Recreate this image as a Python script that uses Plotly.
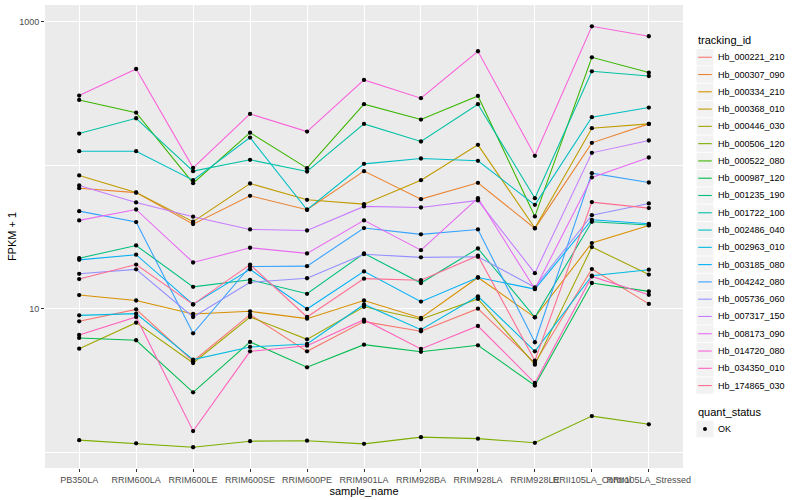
import plotly.graph_objects as go

# ---- data ----
samples = ["PB350LA", "RRIM600LA", "RRIM600LE", "RRIM600SE", "RRIM600PE",
           "RRIM901LA", "RRIM928BA", "RRIM928LA", "RRIM928LE",
           "RRII105LA_Control", "RRII105LA_Stressed"]

hb_000221_210 = [8.16, 9.89, 4.30, 9.08, 5.04, 8.12, 6.95, 10.0, 4.18, 18.9, 10.8]
hb_000307_090 = [69.3, 64.5, 38.9, 61.3, 49.0, 91.1, 58.1, 75.5, 36.3, 143.5, 194.6]
hb_000334_210 = [12.45, 11.4, 9.18, 9.58, 8.52, 11.4, 8.61, 16.5, 8.70, 28.7, 38.1]
hb_000368_010 = [85.0, 64.7, 40.4, 74.7, 57.5, 53.6, 78.8, 139.0, 36.5, 181.6, 194.6]
hb_000446_030 = [5.26, 7.99, 4.18, 8.75, 6.11, 10.3, 8.43, 11.7, 4.07, 26.9, 17.3]
hb_000506_120 = [1.21, 1.15, 1.08, 1.19, 1.20, 1.14, 1.27, 1.24, 1.16, 1.78, 1.56]
hb_000522_080 = [286, 233, 75.1, 169, 95.6, 267, 208.6, 305, 44.0, 567, 444]
hb_000987_120 = [6.25, 6.02, 2.61, 5.86, 3.90, 5.61, 5.00, 5.55, 2.91, 15.1, 13.2]
hb_001235_190 = [22.5, 27.6, 14.2, 15.9, 12.7, 24.3, 15.1, 26.3, 8.70, 40.4, 38.3]
hb_001722_100 = [166.6, 213, 91.1, 109.2, 90.6, 194.6, 146.6, 267, 59.0, 453, 420]
hb_002486_040 = [125.5, 125.5, 78.8, 156.3, 49.0, 102.4, 111.6, 107.5, 53.0, 216.6, 252.9]
hb_002963_010 = [8.98, 9.23, 4.41, 5.41, 5.67, 10.7, 7.14, 12.2, 5.04, 17.0, 18.7]
hb_003185_080 = [21.9, 23.8, 10.7, 18.8, 9.95, 18.2, 11.2, 16.5, 13.7, 41.7, 39.1]
hb_004242_080 = [47.9, 40.2, 6.73, 19.7, 19.8, 36.5, 33.0, 35.7, 5.83, 88.2, 75.9]
hb_005736_060 = [17.5, 18.8, 8.75, 15.3, 16.3, 24.0, 22.8, 23.0, 14.1, 44.9, 54.2]
hb_007317_150 = [72.4, 55.1, 43.8, 35.7, 35.1, 51.7, 50.8, 56.9, 17.7, 122.2, 149.0]
hb_008173_090 = [41.3, 49.2, 21.0, 26.6, 24.3, 41.3, 25.6, 59.0, 13.7, 82.3, 113.4]
hb_014720_080 = [306.6, 470, 96.1, 228.5, 172, 394, 294, 625, 116.5, 933, 795]
hb_034350_010 = [6.55, 8.75, 1.40, 5.04, 5.52, 8.38, 5.23, 7.57, 3.03, 16.8, 12.5]
hb_174865_030 = [16.1, 20.3, 10.7, 20.3, 8.75, 16.2, 15.8, 23.4, 4.34, 55.4, 50.3]

tracking_ids = ["Hb_000221_210", "Hb_000307_090", "Hb_000334_210", "Hb_000368_010",
                "Hb_000446_030", "Hb_000506_120", "Hb_000522_080", "Hb_000987_120",
                "Hb_001235_190", "Hb_001722_100", "Hb_002486_040", "Hb_002963_010",
                "Hb_003185_080", "Hb_004242_080", "Hb_005736_060", "Hb_007317_150",
                "Hb_008173_090", "Hb_014720_080", "Hb_034350_010", "Hb_174865_030"]
series_values = [hb_000221_210, hb_000307_090, hb_000334_210, hb_000368_010,
                 hb_000446_030, hb_000506_120, hb_000522_080, hb_000987_120,
                 hb_001235_190, hb_001722_100, hb_002486_040, hb_002963_010,
                 hb_003185_080, hb_004242_080, hb_005736_060, hb_007317_150,
                 hb_008173_090, hb_014720_080, hb_034350_010, hb_174865_030]
quant_status = "OK"

# ---- style ----
palette = ["#F8766D", "#EA8331", "#D89000", "#C09B00", "#A3A500", "#7CAE00",
           "#39B600", "#00BB4E", "#00BF7D", "#00C1A3", "#00BFC4", "#00BAE0",
           "#00B0F6", "#35A2FF", "#9590FF", "#C77CFF", "#E76BF3", "#FA62DB",
           "#FF62BC", "#FF6C91"]
FONT = "Liberation Sans, Arial, Helvetica, sans-serif"
W, H = 800, 500
ML, MR, MT, MB = 45, 116.5, 5, 31.5
PW, PH = W - ML - MR, H - MT - MB


def px(x):
    return (x - ML) / PW


def py(y):
    return (H - MB - y) / PH


fig = go.Figure()
for tid, vals, col in zip(tracking_ids, series_values, palette):
    fig.add_trace(go.Scatter(x=samples, y=vals, mode="lines", name=tid,
                             line=dict(color=col, width=1.07),
                             showlegend=False, hoverinfo="skip"))

all_x, all_y = [], []
for vals in series_values:
    all_x.extend(samples)
    all_y.extend(vals)
fig.add_trace(go.Scatter(x=all_x, y=all_y, mode="markers", name=quant_status,
                         marker=dict(color="black", size=4.3),
                         showlegend=False))

# ---- custom ggplot-like legend ----
shapes, annotations = [], []
annotations.append(dict(text="tracking_id", x=px(697), y=py(40), xref="paper", yref="paper",
                        xanchor="left", yanchor="middle", showarrow=False,
                        font=dict(family=FONT, size=11, color="black")))
step = 17.3
for i, (tid, col) in enumerate(zip(tracking_ids, palette)):
    cy = 57.3 + i * step
    shapes.append(dict(type="rect", xref="paper", yref="paper",
                       x0=px(697), x1=px(714), y0=py(cy - 8.2), y1=py(cy + 8.2),
                       fillcolor="#F2F2F2", line=dict(width=0)))
    shapes.append(dict(type="line", xref="paper", yref="paper",
                       x0=px(698.7), x1=px(712.3), y0=py(cy), y1=py(cy),
                       line=dict(color=col, width=1.1)))
    annotations.append(dict(text=tid, x=px(717), y=py(cy), xref="paper", yref="paper",
                            xanchor="left", yanchor="middle", showarrow=False,
                            font=dict(family=FONT, size=9, color="black")))

annotations.append(dict(text="quant_status", x=px(697), y=py(412), xref="paper", yref="paper",
                        xanchor="left", yanchor="middle", showarrow=False,
                        font=dict(family=FONT, size=11, color="black")))
cy = 429.5
shapes.append(dict(type="rect", xref="paper", yref="paper",
                   x0=px(697), x1=px(714), y0=py(cy - 8.2), y1=py(cy + 8.2),
                   fillcolor="#F2F2F2", line=dict(width=0)))
shapes.append(dict(type="circle", xref="paper", yref="paper",
                   x0=px(703.5), x1=px(707.5), y0=py(cy - 2.0), y1=py(cy + 2.0),
                   fillcolor="black", line=dict(width=0)))
annotations.append(dict(text=quant_status, x=px(717), y=py(cy), xref="paper", yref="paper",
                        xanchor="left", yanchor="middle", showarrow=False,
                        font=dict(family=FONT, size=9, color="black")))

fig.update_layout(
    width=W, height=H,
    margin=dict(l=ML, r=MR, t=MT, b=MB, pad=0),
    paper_bgcolor="white", plot_bgcolor="#EBEBEB",
    font=dict(family=FONT, size=9, color="#4D4D4D"),
    showlegend=False,
    shapes=shapes, annotations=annotations,
)
fig.update_xaxes(
    type="category", categoryorder="array", categoryarray=samples,
    range=[-0.6, len(samples) - 0.4], tickangle=0,
    showgrid=True, gridcolor="white", gridwidth=1.07,
    zeroline=False, showline=False,
    ticks="outside", ticklen=3, tickwidth=1, tickcolor="#333333",
    tickfont=dict(family=FONT, size=9, color="#4D4D4D"),
    title=dict(text="sample_name", font=dict(family=FONT, size=11, color="black"), standoff=0),
)
fig.update_yaxes(
    type="log", range=[-0.1115, 3.1185],
    tickmode="array", tickvals=[10, 1000], ticktext=["10", "1000"],
    showgrid=True, gridcolor="white", gridwidth=1.07,
    minor=dict(tickmode="array", tickvals=[1, 100], showgrid=True,
               gridcolor="white", gridwidth=0.53, ticks=""),
    zeroline=False, showline=False,
    ticks="outside", ticklen=3, tickwidth=1, tickcolor="#333333",
    tickfont=dict(family=FONT, size=9, color="#4D4D4D"),
    title=dict(text="FPKM + 1", font=dict(family=FONT, size=11, color="black"), standoff=0),
)

fig.write_html("out.html", config={"displayModeBar": False},
               post_script="document.body.style.margin='0';")
